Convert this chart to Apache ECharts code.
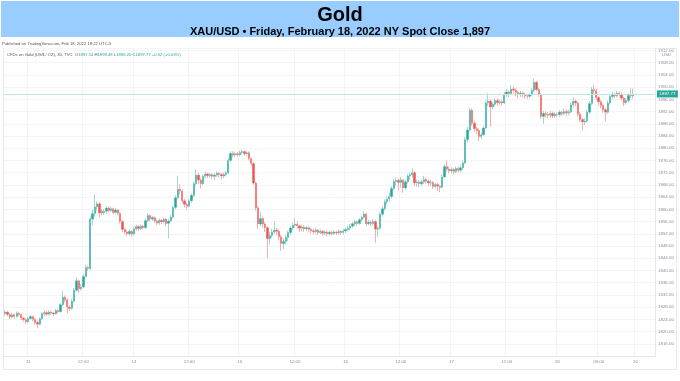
<!DOCTYPE html>
<html><head><meta charset="utf-8">
<script src="https://cdn.jsdelivr.net/npm/echarts@6/dist/echarts.min.js"></script>
<style>html,body{margin:0;padding:0;background:#fff}#c{width:680px;height:381px}</style>
</head><body><div id="c"></div>
<script>
// 30-minute candles, XAU/USD, Feb 10 19:00 -> Feb 18 16:30 (NY time). Rows: [open, close, low, high]
const ohlc = [
[1825.9,1826.4,1825.2,1827.0],[1826.4,1825.6,1825.0,1826.8],[1825.6,1824.8,1824.1,1826.0],[1824.8,1825.5,1824.3,1826.2],
[1825.5,1824.9,1824.2,1825.9],[1824.9,1826.0,1824.6,1826.6],[1826.0,1825.6,1825.0,1826.5],[1825.6,1824.4,1823.8,1825.9],
[1824.4,1823.9,1823.2,1824.9],[1823.9,1823.2,1822.5,1824.3],[1823.2,1824.3,1822.9,1824.8],[1824.3,1824.9,1823.8,1825.4],
[1824.9,1824.0,1823.3,1825.2],[1824.0,1823.0,1822.2,1824.4],[1823.0,1822.4,1821.0,1823.6],[1822.4,1824.2,1822.0,1824.7],
[1824.2,1825.8,1823.8,1826.3],[1825.8,1826.2,1825.2,1826.9],[1826.2,1825.7,1825.0,1826.6],[1825.7,1826.4,1825.3,1827.0],
[1826.4,1826.1,1825.4,1826.9],[1826.1,1825.8,1825.1,1826.5],[1825.8,1826.9,1825.5,1827.4],[1826.9,1826.5,1825.9,1827.3],
[1826.5,1828.8,1826.2,1829.4],[1828.8,1831.2,1828.4,1833.2],[1831.2,1830.4,1829.6,1831.8],[1830.4,1828.0,1826.0,1830.8],
[1828.0,1827.6,1826.8,1828.6],[1827.6,1829.9,1827.2,1830.6],[1829.9,1833.5,1829.5,1834.2],[1833.5,1836.6,1833.0,1837.6],
[1836.6,1834.0,1832.6,1837.0],[1834.0,1834.6,1833.4,1835.5],[1834.6,1838.0,1834.2,1838.8],[1838.0,1841.0,1837.6,1841.8],
[1841.0,1840.6,1839.8,1841.6],[1840.6,1856.8,1840.2,1857.6],[1856.8,1858.6,1854.8,1860.0],[1858.6,1860.8,1857.6,1865.0],
[1860.8,1861.8,1859.6,1862.6],[1861.8,1858.8,1857.4,1862.4],[1858.8,1859.4,1858.0,1860.2],[1859.4,1859.0,1858.2,1860.0],
[1859.4,1860.4,1858.6,1861.0],[1860.4,1859.6,1859.0,1861.0],[1859.6,1860.2,1859.2,1860.8],[1860.2,1859.0,1858.4,1860.6],
[1859.0,1859.8,1858.6,1860.4],[1859.8,1858.7,1858.0,1860.1],[1858.7,1856.0,1855.4,1859.0],[1856.0,1853.4,1852.6,1856.4],
[1853.4,1852.6,1851.8,1854.0],[1852.6,1852.0,1851.2,1853.2],[1852.0,1852.8,1851.4,1853.4],[1852.8,1851.9,1851.0,1853.2],
[1851.9,1853.6,1851.4,1854.2],[1853.6,1854.4,1853.0,1855.0],[1854.4,1853.7,1852.9,1854.8],[1853.7,1854.5,1853.2,1855.1],
[1854.5,1854.0,1853.3,1854.9],[1854.0,1856.3,1853.6,1857.0],[1856.3,1858.0,1855.8,1858.7],[1858.0,1856.8,1856.0,1858.4],
[1856.8,1857.3,1856.2,1857.9],[1857.3,1856.2,1855.5,1857.7],[1856.2,1855.5,1854.8,1856.6],[1855.5,1856.4,1855.0,1857.0],
[1856.4,1855.9,1855.2,1856.8],[1855.9,1856.8,1855.4,1857.3],[1856.8,1855.4,1854.6,1857.1],[1855.4,1856.2,1850.5,1856.7],
[1856.2,1857.5,1855.8,1858.1],[1857.5,1860.6,1857.0,1861.3],[1860.6,1863.8,1860.0,1864.6],[1863.8,1866.6,1863.2,1871.0],
[1866.6,1866.0,1864.8,1868.2],[1866.0,1862.8,1862.0,1866.6],[1862.8,1861.6,1860.6,1863.4],[1861.6,1861.0,1860.0,1862.2],
[1861.0,1862.8,1860.6,1863.4],[1862.8,1864.6,1862.2,1865.2],[1864.6,1868.4,1864.0,1869.0],[1868.4,1871.2,1867.8,1873.0],
[1871.2,1869.6,1868.4,1872.0],[1869.6,1868.4,1866.8,1870.2],[1868.4,1870.8,1868.0,1871.4],[1870.8,1871.6,1870.2,1872.4],
[1871.6,1871.0,1870.2,1872.0],[1871.0,1871.4,1870.4,1872.0],[1871.4,1870.8,1869.8,1871.8],[1870.8,1871.2,1869.6,1871.8],
[1871.2,1871.8,1870.6,1872.4],[1871.8,1871.4,1870.4,1872.2],[1871.4,1870.9,1869.8,1871.9],[1870.9,1871.5,1870.2,1872.0],
[1871.5,1871.9,1870.8,1872.6],[1871.9,1876.0,1871.5,1876.8],[1876.0,1878.3,1875.6,1879.0],[1878.3,1877.8,1877.0,1879.0],
[1877.8,1878.2,1877.2,1878.9],[1878.2,1877.9,1877.2,1878.8],[1877.9,1878.6,1877.4,1879.2],[1878.6,1878.9,1878.0,1879.6],
[1878.9,1878.2,1877.6,1879.4],[1878.2,1878.5,1877.6,1879.0],[1878.5,1876.6,1876.0,1879.0],[1876.6,1875.0,1874.2,1877.0],
[1875.0,1868.6,1868.0,1875.4],[1868.6,1860.5,1859.6,1869.0],[1860.5,1855.2,1853.6,1861.2],[1855.2,1857.0,1854.6,1859.0],
[1857.0,1855.2,1854.0,1857.6],[1855.2,1854.0,1852.6,1855.8],[1854.0,1850.4,1844.0,1854.4],[1850.4,1851.4,1848.4,1852.6],
[1851.4,1852.6,1850.6,1853.6],[1852.6,1853.2,1851.8,1856.0],[1853.2,1852.8,1851.6,1854.0],[1852.8,1851.0,1849.8,1853.4],
[1851.0,1848.8,1846.4,1851.6],[1848.8,1849.5,1847.0,1850.4],[1849.5,1850.8,1848.6,1851.6],[1850.8,1852.4,1849.6,1853.0],
[1852.4,1853.9,1851.6,1854.6],[1853.9,1854.8,1853.2,1855.6],[1854.8,1855.2,1854.0,1857.0],[1855.2,1854.6,1853.8,1856.0],
[1854.6,1853.8,1852.6,1855.0],[1853.8,1854.2,1852.8,1855.0],[1854.2,1853.6,1852.6,1854.8],[1853.6,1854.0,1852.8,1854.6],
[1854.0,1853.5,1852.6,1854.4],[1853.5,1853.0,1852.2,1854.0],[1853.0,1852.7,1851.8,1853.6],[1852.7,1853.2,1852.0,1853.8],
[1853.2,1852.4,1851.6,1853.6],[1852.4,1852.8,1851.8,1853.4],[1852.8,1852.2,1851.4,1853.2],[1852.2,1852.6,1851.6,1853.2],
[1852.6,1852.0,1851.2,1853.0],[1852.0,1852.5,1851.4,1853.0],[1852.5,1852.1,1851.4,1852.9],[1852.1,1852.6,1851.6,1853.2],
[1852.6,1852.3,1851.6,1853.0],[1852.3,1852.8,1851.8,1853.4],[1852.8,1852.4,1851.6,1853.2],[1852.4,1852.9,1851.8,1853.6],
[1852.9,1853.4,1852.2,1854.0],[1853.4,1853.9,1852.8,1854.6],[1853.9,1854.5,1853.2,1855.2],[1854.5,1855.3,1854.0,1855.9],
[1855.3,1855.9,1854.6,1856.6],[1855.9,1855.4,1854.6,1856.4],[1855.4,1856.6,1855.0,1857.2],[1856.6,1857.4,1856.0,1858.0],
[1857.4,1858.5,1857.0,1859.4],[1858.5,1855.3,1854.6,1858.9],[1855.3,1855.8,1854.8,1856.6],[1855.8,1855.4,1854.4,1856.4],
[1855.4,1856.0,1854.8,1856.8],[1856.0,1853.5,1849.0,1856.4],[1853.5,1853.8,1851.0,1854.6],[1853.8,1858.4,1853.4,1859.0],
[1858.4,1860.2,1857.6,1861.0],[1860.2,1862.5,1859.6,1863.2],[1862.5,1863.4,1861.6,1864.2],[1863.4,1864.2,1862.4,1865.4],
[1864.2,1866.8,1863.6,1867.6],[1866.8,1869.1,1866.2,1869.8],[1869.1,1869.5,1867.6,1870.4],[1869.5,1868.8,1866.2,1870.2],
[1868.8,1869.6,1867.0,1870.6],[1869.6,1867.0,1865.4,1870.0],[1867.0,1869.0,1866.4,1869.8],[1869.0,1870.9,1868.4,1871.6],
[1870.9,1871.3,1869.6,1872.0],[1871.3,1872.0,1870.4,1873.4],[1872.0,1868.6,1867.6,1872.4],[1868.6,1868.9,1867.4,1869.8],
[1868.9,1868.4,1867.2,1869.6],[1868.4,1869.0,1867.6,1869.8],[1869.0,1869.8,1868.2,1871.0],[1869.8,1869.2,1868.4,1870.4],
[1869.2,1868.6,1867.6,1869.8],[1868.6,1868.8,1867.6,1869.6],[1868.8,1867.5,1866.6,1869.2],[1867.5,1868.1,1866.8,1868.8],
[1868.1,1867.6,1866.0,1868.6],[1867.6,1867.2,1865.6,1868.0],[1867.2,1870.6,1866.8,1871.4],[1870.6,1874.0,1870.2,1874.8],
[1874.0,1873.2,1872.4,1876.0],[1873.2,1872.6,1871.8,1874.0],[1872.6,1873.0,1871.8,1873.8],[1873.0,1872.4,1871.4,1873.6],
[1872.4,1873.4,1871.8,1874.0],[1873.4,1872.8,1872.0,1874.0],[1872.8,1873.6,1872.2,1874.4],[1873.6,1875.2,1873.0,1876.0],
[1875.2,1882.8,1874.8,1883.6],[1882.8,1886.0,1882.0,1887.0],[1886.0,1892.4,1885.4,1893.2],[1892.4,1888.2,1887.4,1893.0],
[1888.2,1886.4,1885.4,1889.0],[1886.4,1885.8,1884.6,1887.0],[1885.8,1883.8,1882.4,1886.4],[1883.8,1884.4,1883.0,1885.2],
[1884.4,1886.6,1884.0,1887.4],[1886.6,1894.8,1886.2,1895.6],[1894.8,1895.4,1893.8,1898.0],[1895.4,1893.5,1887.0,1896.0],
[1893.5,1894.4,1892.8,1895.0],[1894.4,1895.6,1893.8,1896.4],[1895.6,1894.9,1894.0,1896.2],[1894.9,1895.2,1894.2,1896.0],
[1895.2,1894.8,1893.8,1895.8],[1894.8,1897.6,1894.4,1898.4],[1897.6,1898.4,1896.8,1899.4],[1898.4,1897.9,1896.6,1899.0],
[1897.9,1899.4,1897.4,1900.6],[1899.4,1899.0,1898.0,1900.2],[1899.0,1898.2,1897.0,1899.6],[1898.2,1897.6,1896.4,1898.8],
[1897.6,1898.0,1896.8,1898.8],[1898.0,1897.6,1896.6,1898.6],[1897.6,1897.2,1896.2,1898.2],[1897.2,1897.0,1896.2,1897.8],
[1897.0,1897.4,1896.4,1898.2],[1897.4,1898.9,1897.0,1899.6],[1898.9,1901.6,1898.4,1902.8],[1901.6,1899.2,1898.6,1902.0],
[1899.2,1897.6,1896.8,1899.8],[1897.6,1890.4,1889.6,1898.0],[1890.4,1891.4,1888.0,1892.2],[1891.4,1891.0,1890.0,1892.0],
[1891.0,1890.8,1889.8,1891.8],[1890.8,1891.4,1890.0,1892.2],[1891.4,1890.6,1889.8,1892.0],[1890.6,1891.2,1890.0,1891.8],
[1891.2,1891.0,1890.2,1891.8],[1891.0,1891.8,1890.4,1892.6],[1891.8,1891.4,1890.6,1892.2],[1891.4,1892.0,1890.8,1892.8],
[1892.0,1891.6,1890.6,1892.6],[1891.6,1891.9,1890.8,1892.6],[1891.9,1894.2,1891.4,1895.0],[1894.2,1895.4,1893.6,1896.6],
[1895.4,1894.8,1893.8,1896.0],[1894.8,1891.2,1890.4,1895.2],[1891.2,1889.4,1888.6,1891.8],[1889.4,1888.6,1885.8,1890.0],
[1888.6,1888.9,1887.6,1889.8],[1888.9,1891.8,1888.4,1892.6],[1891.8,1894.6,1891.2,1895.4],[1894.6,1899.2,1894.2,1900.0],
[1899.2,1898.8,1897.8,1900.8],[1898.8,1896.6,1895.8,1899.4],[1896.6,1895.2,1894.0,1897.2],[1895.2,1894.0,1893.0,1895.8],
[1894.0,1892.6,1891.6,1894.6],[1892.6,1891.8,1888.8,1893.2],[1891.8,1894.8,1891.2,1895.6],[1894.8,1896.9,1894.2,1897.6],
[1896.9,1897.6,1896.2,1898.4],[1897.6,1897.2,1896.4,1898.2],[1897.2,1898.0,1896.6,1898.8],[1898.0,1897.7,1896.8,1898.6],
[1897.7,1896.4,1895.6,1898.2],[1896.4,1894.9,1893.8,1896.8],[1894.9,1895.6,1894.2,1896.4],[1895.6,1897.3,1895.0,1898.0],
[1897.3,1897.14,1896.4,1899.6],[1897.14,1897.77,1896.20,1899.48]
];
const emptySlotsAfter = 9;              // right-margin slots (no data)
const tickTimes  = ['02-11 00:00','02-11 12:00','02-14 00:00','02-14 12:00','02-15 00:00','02-15 12:00','02-16 00:00','02-16 12:00','02-17 00:00','02-17 12:00','02-18 00:00','02-18 09:00','02-20 18:00'];
const tickLabels = ['11','12:00','14','12:00','15','12:00','16','12:00','17','12:00','18','09:00','20'];
const lastPrice = 1897.77;
const legendValues = {O:'1897.14', H:'1899.48', L:'1896.20', C:'1897.77', chg:'+0.52 (+0.03%)'};

// trading-session timeline (30 min bars, closed 17:00-18:00 and Fri 17:00 - Sun 18:00)
function buildTimes(n){
  const out=[]; let t=Date.UTC(2022,1,10,19,0);
  const p=v=>String(v).padStart(2,'0');
  while(out.length<n){
    const d=new Date(t), h=d.getUTCHours(), dow=d.getUTCDay();
    const closed = h===17 || (dow===5 && h>=17) || dow===6 || (dow===0 && h<18);
    if(!closed) out.push(p(d.getUTCMonth()+1)+'-'+p(d.getUTCDate())+' '+p(h)+':'+p(d.getUTCMinutes()));
    t+=1800000;
  }
  return out;
}
const categories = buildTimes(ohlc.length + emptySlotsAfter);
const tickMap = {}; tickTimes.forEach((t,i)=>tickMap[t]=tickLabels[i]);
const isTick = (idx,val)=> tickMap[val]!==undefined;

const UP='#26a69a', DOWN='#ef5350';
const F='Liberation Sans';
const chart = echarts.init(document.getElementById('c'), null, {renderer:'canvas'});
chart.setOption({
  animation:false,
  backgroundColor:'#fff',
  graphic:[
    {type:'rect', shape:{x:1,y:1,width:678,height:36}, style:{fill:'#99ccff'}, z:-10},
    {type:'rect', shape:{x:3.5,y:48.5,width:673,height:321}, style:{fill:'none', stroke:'#e6e8ee', lineWidth:1}, z:-5}
  ],
  title:[
    {text:'Gold', left:'center', top:5, padding:0, textStyle:{fontFamily:F, fontSize:20, fontWeight:'bold', color:'#000'}},
    {text:'XAU/USD • Friday, February 18, 2022 NY Spot Close 1,897', left:'center', top:26.5, padding:0, textStyle:{fontFamily:F, fontSize:11, fontWeight:'bold', color:'#000'}},
    {text:'Published on TradingView.com, Feb 18, 2022 18:22 UTC-5', left:2, top:42, padding:0, textStyle:{fontFamily:F, fontSize:4.2, fontWeight:'normal', color:'#555'}},
    {text:'{a|CFDs on Gold (US$ / OZ), 30, TVC}  {a|O}{v|'+legendValues.O+'} {a|H}{v|'+legendValues.H+'} {a|L}{v|'+legendValues.L+'} {a|C}{v|'+legendValues.C+'} {v|'+legendValues.chg+'}',
      left:7, top:53, padding:0, textStyle:{fontFamily:F, fontSize:4.2, fontWeight:'normal',
      rich:{a:{color:'#555', fontSize:4.2, fontFamily:F}, v:{color:UP, fontSize:4.2, fontFamily:F}}}},
    {text:'{l|TV} {a|TradingView}', left:4, top:374.5, padding:0, textStyle:{rich:{l:{color:'#131722', fontSize:5, fontWeight:'bold', fontFamily:F}, a:{color:'#444', fontSize:4.4, fontFamily:F}}}},
    {text:'USD', left:662, top:53, padding:0, textStyle:{fontFamily:F, fontSize:4.4, fontWeight:'normal', color:'#8a8d97'}}
  ],
  grid:{left:4, right:25, top:48, bottom:25, containLabel:false},
  xAxis:{
    type:'category', data:categories, boundaryGap:true,
    axisLine:{show:true, lineStyle:{color:'#e6e8ee'}},
    axisTick:{show:false},
    axisLabel:{interval:isTick, formatter:v=>tickMap[v]||'', color:'#8a8d97', fontSize:4.4, fontFamily:F, margin:4},
    splitLine:{show:true, interval:isTick, lineStyle:{color:'#f3f4f7', width:1}}
  },
  yAxis:{
    type:'value', position:'right', min:1812, max:1912.8, interval:4, scale:true,
    axisLine:{show:true, lineStyle:{color:'#e6e8ee'}},
    axisTick:{show:false},
    axisLabel:{formatter:v=>v.toFixed(2), color:'#8a8d97', fontSize:4.4, fontFamily:F, margin:3, showMinLabel:false, showMaxLabel:false},
    splitLine:{show:true, lineStyle:{color:'#f3f4f7', width:1}}
  },
  series:[
    { // wicks (thin, light)
      type:'candlestick', data:ohlc.map(r=>[r[0],r[1],r[2],r[3]]), barWidth:'78%',
      itemStyle:{color:'#9fd8d1', color0:'#f6b0ae', borderColor:'#9fd8d1', borderColor0:'#f6b0ae', borderWidth:1},
      markLine:{symbol:'none', silent:true, animation:false,
        lineStyle:{color:'#bfe5e0', type:'solid', width:1},
        label:{show:true, position:'end', distance:2, formatter:()=>lastPrice.toFixed(2), color:'#fff', backgroundColor:UP, fontSize:4.4, fontFamily:F, padding:[1.5,2.5]},
        data:[{yAxis:lastPrice}]}
    },
    { // bodies
      type:'candlestick', data:ohlc.map(r=>[r[0],r[1],Math.min(r[0],r[1]),Math.max(r[0],r[1])]), barWidth:'78%',
      itemStyle:{color:UP, color0:DOWN, borderColor:UP, borderColor0:DOWN, borderWidth:0}
    }
  ]
});
</script></body></html>
